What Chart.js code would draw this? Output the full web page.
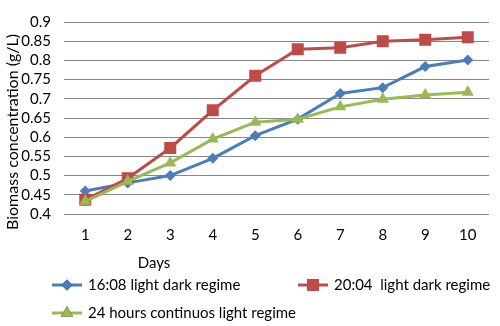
<!DOCTYPE html>
<html>
<head>
<meta charset="utf-8">
<script src="https://cdn.jsdelivr.net/npm/chart.js@4.4.0/dist/chart.umd.min.js"></script>
<style>
  html, body { margin: 0; padding: 0; background: #fff; }
  #wrap { width: 500px; height: 326px; position: relative; }
</style>
</head>
<body>
<div id="wrap"><canvas id="chartBiomassa"></canvas></div>
<script>
const dias = ['1', '2', '3', '4', '5', '6', '7', '8', '9', '10'];
const regime1608 = [0.46, 0.481, 0.50, 0.545, 0.604, 0.647, 0.714, 0.729, 0.784, 0.801];
const regime2004 = [0.437, 0.493, 0.572, 0.67, 0.76, 0.829, 0.833, 0.85, 0.854, 0.86];
const regime24h = [0.433, 0.485, 0.533, 0.595, 0.639, 0.647, 0.679, 0.699, 0.71, 0.717];
const nomesSeries = ['16:08 light dark regime', '20:04  light dark regime', '24 hours continuos light regime'];

const fonte = 'Lato, "Open Sans", sans-serif';
const tamFonte = 15;
const corTexto = '#000000';

// legenda e titulos desenhados a mao para ficar na posicao do original
const pluginExtras = {
    id: 'extras',
    afterDraw(chart) {
        const ctx = chart.ctx;
        ctx.save();
        ctx.fillStyle = corTexto;
        ctx.font = tamFonte + 'px ' + fonte;
        ctx.textBaseline = 'middle';

        ctx.textAlign = 'center';
        ctx.fillText('Days', 154, 263);

        ctx.save();
        ctx.font = '16px ' + fonte;
        ctx.translate(13, 132);
        ctx.rotate(-Math.PI / 2);
        ctx.fillText('Biomass concentration (g/L)', 0, 0);
        ctx.restore();

        const itens = [
            { x: 52, y: 285 },
            { x: 298, y: 285 },
            { x: 52, y: 313 }
        ];
        const porIndice = [...chart.data.datasets].sort((a, b) => b.order - a.order);
        porIndice.forEach((ds, i) => {
            const it = itens[i];
            ctx.strokeStyle = ds.borderColor;
            ctx.lineWidth = 3;
            ctx.beginPath();
            ctx.moveTo(it.x, it.y);
            ctx.lineTo(it.x + 30, it.y);
            ctx.stroke();
            Chart.helpers.drawPoint(ctx, {
                pointStyle: ds.pointStyle,
                radius: ds.pointRadius,
                rotation: 0,
                borderWidth: 0
            }, it.x + 15, it.y);
            ctx.fillStyle = ds.pointBackgroundColor;
            ctx.fill();
            ctx.fillStyle = corTexto;
            ctx.textAlign = 'left';
            ctx.fillText(nomesSeries[i], it.x + 36, it.y);
        });
        ctx.restore();
    }
};

function serie(label, dados, cor, estilo, raio, ordem) {
    return {
        label: label,
        data: dados,
        order: ordem,
        borderColor: cor,
        backgroundColor: cor,
        pointBackgroundColor: cor,
        pointBorderColor: cor,
        pointBorderWidth: 0,
        borderWidth: 3,
        pointStyle: estilo,
        pointRadius: raio,
        pointHoverRadius: raio,
        tension: 0
    };
}

new Chart(document.getElementById('chartBiomassa'), {
    type: 'line',
    data: {
        labels: dias,
        datasets: [
            serie(nomesSeries[0], regime1608, '#4A7EBB', 'rectRot', 5.5, 3),
            serie(nomesSeries[1], regime2004, '#BE4B48', 'rect', 8.5, 2),
            serie(nomesSeries[2], regime24h, '#98B954', 'triangle', 7, 1)
        ]
    },
    options: {
        responsive: true,
        maintainAspectRatio: false,
        animation: false,
        layout: { padding: { top: 14, right: 11, bottom: 0, left: 0 } },
        plugins: {
            legend: { display: false },
            tooltip: { enabled: false }
        },
        scales: {
            x: {
                offset: true,
                grid: { display: false, drawTicks: false },
                border: { display: false },
                ticks: { color: corTexto, font: { family: fonte, size: tamFonte }, padding: 12 },
                afterFit(scale) { scale.height = 112; }
            },
            y: {
                min: 0.4,
                max: 0.9,
                grid: { color: '#878787', lineWidth: 1, drawTicks: false },
                border: { display: false },
                ticks: {
                    stepSize: 0.05,
                    autoSkip: false,
                    color: corTexto,
                    font: { family: fonte, size: tamFonte },
                    padding: 13,
                    callback: v => Number(v.toFixed(2)).toString()
                },
                afterFit(scale) { scale.width = 64; }
            }
        }
    },
    plugins: [pluginExtras]
});
</script>
</body>
</html>
